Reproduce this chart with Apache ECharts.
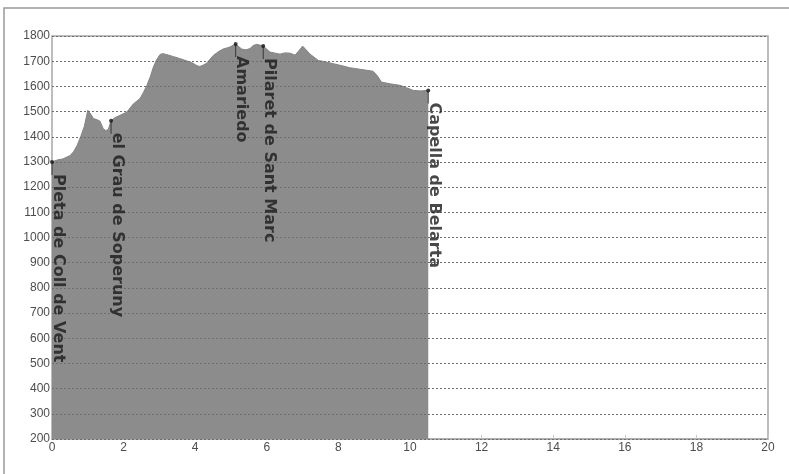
<!DOCTYPE html>
<html>
<head>
<meta charset="utf-8">
<script src="https://cdn.jsdelivr.net/npm/echarts@6/dist/echarts.min.js"></script>
<style>html,body{margin:0;padding:0;background:#fff;}#c{width:789px;height:474px;}</style>
</head>
<body>
<div id="c"></div>
<script>
// Profile: distance (km) and elevation (m)
var distKm = [0, 0.15, 0.3, 0.5, 0.6, 0.7, 0.8, 0.9, 1.0, 1.08, 1.16, 1.25, 1.34, 1.43, 1.5, 1.57, 1.65, 1.76, 1.9, 2.09, 2.27, 2.46, 2.55, 2.65, 2.75, 2.83, 2.92, 3.02, 3.1, 3.21, 3.4, 3.58, 3.75, 3.9, 4.05, 4.13, 4.22, 4.32, 4.5, 4.65, 4.79, 4.95, 5.13, 5.3, 5.42, 5.53, 5.62, 5.72, 5.9, 6.09, 6.2, 6.37, 6.5, 6.65, 6.79, 6.9, 7.0, 7.1, 7.2, 7.44, 7.65, 7.86, 8.1, 8.32, 8.6, 8.97, 9.1, 9.2, 9.45, 9.72, 9.9, 10.09, 10.3, 10.51];
var elevM = [1300, 1308, 1312, 1325, 1340, 1365, 1400, 1440, 1505, 1490, 1472, 1468, 1462, 1432, 1425, 1428, 1464, 1476, 1485, 1498, 1530, 1552, 1575, 1604, 1640, 1676, 1705, 1727, 1730, 1726, 1718, 1710, 1702, 1695, 1682, 1679, 1684, 1692, 1722, 1738, 1749, 1755, 1768, 1748, 1745, 1750, 1762, 1767, 1760, 1736, 1733, 1728, 1733, 1732, 1724, 1742, 1760, 1745, 1729, 1703, 1697, 1690, 1682, 1674, 1668, 1660, 1640, 1617, 1610, 1604, 1595, 1584, 1582, 1584];

// Waypoints
var wpNames = ['Pleta de Coll de Vent', 'el Grau de Soperuny', 'Amariedo', 'Pilaret de Sant Marc', 'Capella de Belarta'];
var wpDist = [0, 1.65, 5.13, 5.9, 10.51];
var wpElev = [1300, 1464, 1768, 1760, 1584];

// Axis ticks
var xMin = 0, xMax = 20, xStep = 2;
var yMin = 200, yMax = 1800, yStep = 100;

var profile = distKm.map(function (d, i) { return [d, elevM[i]]; });
var waypoints = wpNames.map(function (n, i) { return { name: n, value: [wpDist[i], wpElev[i]] }; });

var chart = echarts.init(document.getElementById('c'), null, { renderer: 'canvas' });
chart.setOption({
  backgroundColor: '#ffffff',
  animation: false,
  graphic: [{
    type: 'rect', z: -10, silent: true,
    shape: { x: 4, y: 8, width: 900, height: 600 },
    style: { fill: 'none', stroke: '#999999', lineWidth: 1.5 }
  }],
  grid: { left: 52, right: 21, top: 36, bottom: 35, show: true, borderColor: '#a8a8a8', borderWidth: 1.5, backgroundColor: 'transparent' },
  xAxis: {
    type: 'value', min: xMin, max: xMax, interval: xStep,
    axisLine: { show: true, lineStyle: { color: '#a8a8a8', width: 1.5 } },
    axisTick: { show: true, inside: true, length: 4, lineStyle: { color: '#c8c8c8' } },
    axisLabel: { fontFamily: 'Liberation Sans, Arial, sans-serif', fontSize: 12, color: '#4d4d4d', margin: 3,
      formatter: function (v) { return String(v); } },
    splitLine: { show: false }
  },
  yAxis: {
    type: 'value', min: yMin, max: yMax, interval: yStep, z: 3,
    axisLine: { show: false },
    axisTick: { show: false },
    axisLabel: { fontFamily: 'Liberation Sans, Arial, sans-serif', fontSize: 12, color: '#4d4d4d', margin: 2, padding: [0, 0, 8, 0],
      formatter: function (v) { return String(v); } },
    splitLine: { show: true, lineStyle: { color: '#6e6e6e', type: [2, 2], width: 1 } }
  },
  series: [
    {
      type: 'line', data: profile, symbol: 'none', z: 2,
      lineStyle: { width: 1, color: '#858585' },
      areaStyle: { color: '#8c8c8c', opacity: 1, origin: 'start' }
    },
    {
      type: 'scatter', data: waypoints, z: 5,
      symbol: 'rect', symbolSize: [1, 12], symbolOffset: [0, 7],
      itemStyle: { color: '#222' }, silent: true
    },
    {
      type: 'scatter', data: waypoints, z: 6,
      symbol: 'circle', symbolSize: 4,
      itemStyle: { color: '#111' },
      label: {
        show: true, formatter: '{b}', position: [0, 14], rotate: -90,
        align: 'left', verticalAlign: 'bottom',
        fontFamily: 'DejaVu Sans, sans-serif', fontWeight: 'bold', fontSize: 16, color: '#1a1a1a'
      }
    }
  ]
});
</script>
</body>
</html>
